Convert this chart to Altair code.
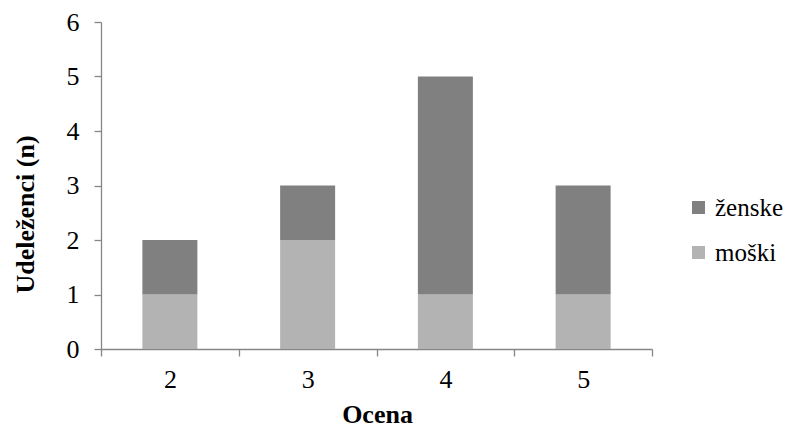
import altair as alt
import pandas as pd

# Scores (x categories) and respondent counts per gender
ocene = ["2", "3", "4", "5"]
moski = [1, 2, 1, 1]
zenske = [1, 1, 4, 2]
spol = ["ženske", "moški"]
barve = ["#808080", "#b3b3b3"]

rows = []
for o, m, z in zip(ocene, moski, zenske):
    rows.append({"Ocena": o, "Spol": "moški", "n": m, "red": 0})
    rows.append({"Ocena": o, "Spol": "ženske", "n": z, "red": 1})
df = pd.DataFrame(rows)

FONT = "Liberation Serif"
AXIS_COLOR = "#868686"
FS = 26

common_axis = dict(
    grid=False,
    domainColor=AXIS_COLOR,
    tickColor=AXIS_COLOR,
    domainWidth=1.3,
    tickWidth=1.3,
    tickSize=7,
    labelFont=FONT,
    labelFontSize=FS,
    labelColor="#000000",
    titleFont=FONT,
    titleFontSize=FS,
    titleColor="#000000",
    titleFontWeight="bold",
    titleAlign="center",
    titleBaseline="middle",
)

bars = alt.Chart(df).mark_bar(size=55).encode(
    x=alt.X(
        "Ocena:N",
        sort=ocene,
        scale=alt.Scale(paddingInner=0, paddingOuter=0),
        axis=alt.Axis(
            title="Ocena",
            labelAngle=0,
            tickBand="extent",
            labelPadding=10,
            titleX=276,
            titleY=65,
            **common_axis,
        ),
    ),
    y=alt.Y(
        "n:Q",
        stack="zero",
        scale=alt.Scale(domain=[0, 6], nice=False),
        axis=alt.Axis(
            title="Udeleženci (n)",
            values=[0, 1, 2, 3, 4, 5, 6],
            labelPadding=15,
            titleAngle=270,
            titleX=-76,
            titleY=192,
            **common_axis,
        ),
    ),
    color=alt.Color(
        "Spol:N",
        scale=alt.Scale(domain=spol, range=barve),
        legend=alt.Legend(
            title=None,
            orient="none",
            legendX=585,
            legendY=173,
            symbolType="square",
            symbolSize=169,
            symbolStrokeWidth=0,
            labelFontSize=25,
            labelFont=FONT,
            labelColor="#000000",
            labelOffset=4,
            labelLimit=200,
            rowPadding=19,
            padding=0,
        ),
    ),
    order=alt.Order("red:Q", sort="ascending"),
)

chart = (
    bars.properties(
        width=551,
        height=327,
        background="#ffffff",
        autosize=alt.AutoSizeParams(type="none"),
        padding={"left": 101, "top": 22, "right": 135, "bottom": 79},
    )
    .configure_view(stroke=None)
)

chart.save("out.html", embed_options={"renderer": "svg", "actions": False})
